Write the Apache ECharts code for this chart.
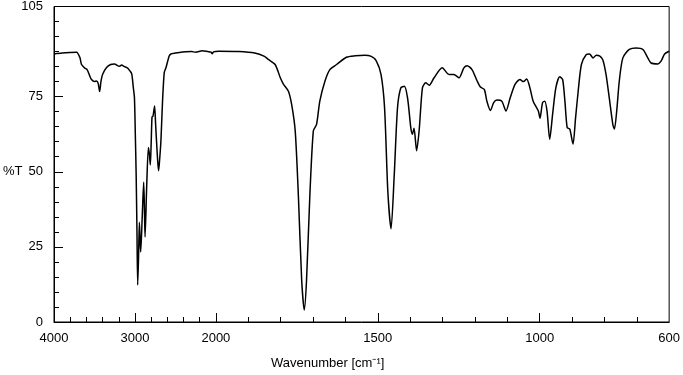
<!DOCTYPE html>
<html>
<head>
<meta charset="utf-8">
<script src="https://cdn.jsdelivr.net/npm/echarts@6/dist/echarts.min.js"></script>
<style>
    html, body {margin: 0; padding: 0; background: #fff;}
    #chart {width: 683px; height: 375px;}
</style>
</head>
<body>
<div id="chart"></div>
<script>
// spectrum, wavenumber (cm-1) and %T
const wavenumbers = [
    4000, 3900, 3800, 3721, 3680, 3660, 3620, 3591, 3560, 3537, 3500, 3476, 3455, 3436, 3420, 3400,
    3353, 3300, 3252, 3215, 3190, 3165, 3130, 3090, 3060, 3039, 3020, 3006, 2995, 2985, 2975, 2966,
    2955, 2945, 2937, 2929, 2910, 2892, 2883, 2875, 2855, 2834, 2822, 2810, 2799, 2789, 2777, 2757,
    2745, 2733, 2720, 2708, 2695, 2679, 2659, 2638, 2617, 2577, 2556, 2500, 2450, 2372, 2300, 2250,
    2168, 2100, 2060, 2045, 2030, 1991, 1929, 1880, 1850, 1837, 1817, 1801, 1791, 1776, 1766, 1755,
    1745, 1735, 1727, 1720, 1710, 1699, 1689, 1679, 1663, 1648, 1627, 1597, 1570, 1540, 1520, 1505,
    1490, 1479, 1469, 1459, 1449, 1439, 1429, 1418, 1408, 1398, 1393, 1388, 1380, 1372, 1362, 1352,
    1341, 1326, 1301, 1280, 1265, 1249, 1234, 1224, 1209, 1193, 1183, 1171, 1163, 1152, 1142, 1132,
    1117, 1104, 1091, 1076, 1061, 1050, 1040, 1030, 1020, 1004, 999, 991, 984, 977, 969, 960,
    950, 938, 929, 922, 915, 907, 897, 889, 881, 871, 856, 846, 835, 825, 815, 805,
    795, 785, 774, 769, 762, 754, 743, 723, 702, 681, 666, 656, 635, 625, 614, 600
];
const transmittance = [
    89.2, 89.5, 89.7, 89.8, 88.0, 85.7, 84.5, 84.0, 82.0, 80.7, 80.0, 80.2, 79.5, 76.7, 80.0, 82.4,
    84.6, 85.7, 85.9, 85.3, 85.1, 85.5, 85.0, 84.5, 83.5, 82.5, 78.0, 74.6, 62.0, 49.2, 30.0, 12.3,
    22.0, 33.2, 28.0, 23.3, 35.0, 46.5, 38.0, 28.3, 45.0, 58.1, 56.0, 52.3, 60.0, 68.2, 68.5, 71.9,
    66.0, 60.0, 54.0, 50.3, 54.0, 60.3, 73.5, 83.0, 84.6, 88.5, 89.2, 89.5, 89.7, 89.9, 90.0, 89.8,
    90.3, 90.0, 89.8, 89.3, 89.9, 90.1, 90.0, 89.5, 88.4, 87.3, 85.7, 81.3, 79.1, 76.8, 72.4, 63.6,
    41.5, 14.0, 4.0, 13.9, 41.5, 63.6, 65.8, 73.5, 80.2, 84.0, 85.7, 88.1, 88.6, 88.8, 88.4, 87.0,
    82.4, 71.3, 43.7, 31.0, 49.2, 71.3, 77.9, 78.5, 74.6, 64.7, 62.5, 64.5, 57.0, 64.0, 77.9, 79.6,
    78.8, 81.3, 84.6, 82.4, 82.4, 81.3, 84.6, 85.3, 84.0, 80.2, 78.2, 77.4, 73.5, 70.4, 73.0, 73.9,
    73.5, 70.2, 74.6, 79.1, 80.7, 80.0, 80.9, 77.9, 73.5, 70.2, 67.8, 73.0, 73.5, 70.0, 60.8, 69.1,
    77.9, 81.6, 80.7, 73.5, 64.7, 64.2, 59.2, 68.0, 76.8, 85.7, 89.0, 89.2, 87.9, 88.8, 88.6, 87.3,
    82.4, 74.6, 65.8, 64.2, 70.2, 80.2, 87.9, 90.7, 91.2, 90.7, 87.9, 86.2, 85.9, 86.8, 89.2, 90.1
];

const xLabels = [4000, 3000, 2000, 1500, 1000, 600];
const xMajorTicks = [3000, 2000, 1500, 1000];
const xMinorTicks = [3800, 3600, 3400, 3200, 2800, 2600, 2400, 2200,
    1900, 1800, 1700, 1600, 1400, 1300, 1200, 1100, 900, 800, 700];
const yLabels = [0, 25, 50, 75, 105];
const yMajorTicks = [25, 50, 75];
const yMinorTicks = [5, 10, 15, 20, 30, 35, 40, 45, 55, 60, 65, 70, 80, 85, 90, 95, 100];

// the wavenumber axis is 4x compressed above 2000 cm-1
function toAxis(w) {
    return w >= 2000 ? (4000 - w) / 4 : 500 + (2000 - w);
}
function fromAxis(u) {
    return u <= 500 ? 4000 - u * 4 : 2000 - (u - 500);
}

let chart = echarts.init(document.getElementById('chart'));

let font = 'Liberation Sans, Arial, sans-serif';
let black = '#000';

let xBase = {
    type: 'value',
    min: 0,
    max: 1900,
    position: 'bottom',
    splitLine: {show: false}
};
let yBase = {
    type: 'value',
    min: 0,
    max: 105,
    position: 'left',
    splitLine: {show: false}
};

let option = {
    animation: false,
    backgroundColor: '#fff',
    grid: {
        left: 54,
        right: 10,
        top: 5,
        bottom: 53,
        show: true,
        borderColor: black,
        borderWidth: 1
    },
    xAxis: [
        Object.assign({}, xBase, {
            axisLine: {show: true, lineStyle: {color: black, width: 1}},
            axisTick: {show: true, inside: true, length: 5, customValues: xMinorTicks.map(toAxis), lineStyle: {color: black}},
            axisLabel: {
                show: true,
                margin: 10,
                customValues: xLabels.map(toAxis),
                formatter: function (v) {
                    return String(Math.round(fromAxis(v)));
                },
                color: black,
                fontFamily: font,
                fontSize: 13
            }
        }),
        Object.assign({}, xBase, {
            axisLine: {show: false},
            axisTick: {show: true, inside: true, length: 9, customValues: xMajorTicks.map(toAxis), lineStyle: {color: black}},
            axisLabel: {show: false}
        })
    ],
    yAxis: [
        Object.assign({}, yBase, {
            axisLine: {show: true, lineStyle: {color: black, width: 1}},
            axisTick: {show: true, inside: true, length: 5, customValues: yMinorTicks, lineStyle: {color: black}},
            axisLabel: {
                show: true,
                margin: 11,
                customValues: yLabels,
                color: black,
                fontFamily: font,
                fontSize: 13
            }
        }),
        Object.assign({}, yBase, {
            axisLine: {show: false},
            axisTick: {show: true, inside: true, length: 9, customValues: yMajorTicks, lineStyle: {color: black}},
            axisLabel: {show: false}
        })
    ],
    graphic: [
        {
            type: 'text',
            left: 3,
            top: 165,
            style: {text: '%T', fill: black, font: '13px ' + font}
        },
        {
            type: 'text',
            left: 271,
            top: 357,
            style: {text: 'Wavenumber [cm⁻¹]', fill: black, font: '13px ' + font}
        }
    ],
    series: [
        {
            type: 'line',
            xAxisIndex: 0,
            yAxisIndex: 0,
            showSymbol: false,
            smooth: 0.25,
            lineStyle: {color: black, width: 1.5},
            data: wavenumbers.map(function (w, i) {
                return [toAxis(w), transmittance[i]];
            })
        }
    ]
};

chart.setOption(option);
</script>
</body>
</html>
